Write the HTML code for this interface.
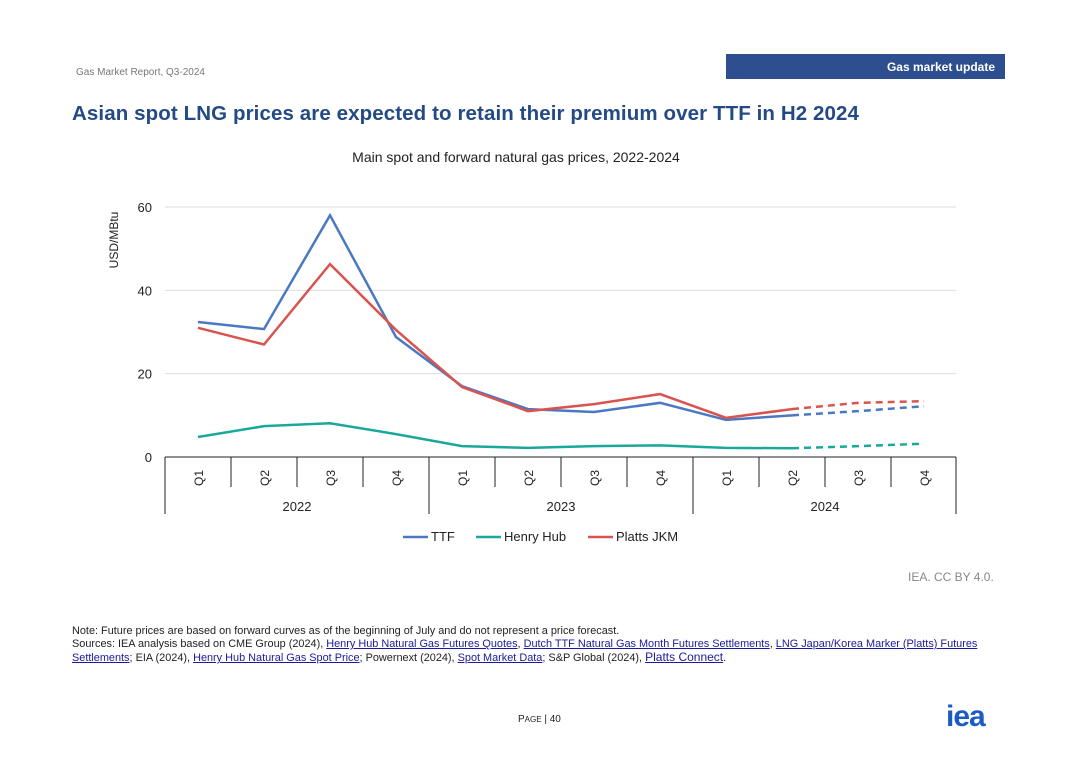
<!DOCTYPE html>
<html><head><meta charset="utf-8"><style>
body{margin:0;width:1080px;height:763px;background:#fff;font-family:"Liberation Sans",Arial,sans-serif;position:relative;overflow:hidden}
.a{position:absolute}
a{color:#1a1a9c;text-decoration:underline}
</style></head><body>
<div class="a" style="left:76px;top:67px;font-size:10px;color:#777">Gas Market Report, Q3-2024</div>
<div class="a" style="left:726px;top:54px;width:279px;height:25px;background:#2e4f8f;color:#fff;font-size:12px;font-weight:bold;text-align:right;box-sizing:border-box;padding:6px 10px 0 0">Gas market update</div>
<div class="a" style="left:72px;top:102px;font-size:20.5px;font-weight:bold;color:#234a85;letter-spacing:0.1px">Asian spot LNG prices are expected to retain their premium over TTF in H2 2024</div>
<div class="a" style="left:0;width:1032px;top:149px;text-align:center;font-size:14px;color:#222">Main spot and forward natural gas prices, 2022-2024</div>
<svg class="a" style="left:0;top:0" width="1080" height="763" id="chart"></svg>
<div class="a" style="left:908px;top:570px;font-size:12px;color:#888">IEA. CC BY 4.0.</div>
<div class="a" style="left:72px;top:625px;width:940px;font-size:10.9px;line-height:13px;color:#222">Note: Future prices are based on forward curves as of the beginning of July and do not represent a price forecast.<br>Sources: IEA analysis based on CME Group (2024), <a>Henry Hub Natural Gas Futures Quotes</a>, <a>Dutch TTF Natural Gas Month Futures Settlements</a>, <a>LNG Japan/Korea Marker (Platts) Futures Settlements</a>; EIA (2024), <a>Henry Hub Natural Gas Spot Price</a>; Powernext (2024), <a>Spot Market Data</a>; S&amp;P Global (2024), <a style="font-size:12px">Platts Connect</a>.</div>
<div class="a" style="left:518px;top:714px;font-size:10px;color:#222">P<span style="font-size:8px">AGE</span> | 40</div>
<div class="a" style="left:946px;top:700px;font-size:30px;font-weight:bold;color:#1c5bc4;letter-spacing:-1px">iea</div>
<script>
const quarters=["Q1","Q2","Q3","Q4","Q1","Q2","Q3","Q4","Q1","Q2","Q3","Q4"];
const years=["2022","2023","2024"];
const yTicks=[0,20,40,60];
const ttf=[32.4,30.7,58,28.8,17,11.5,10.8,13,8.9,10,11,12.2];
const henryHub=[4.8,7.4,8.1,5.5,2.6,2.2,2.6,2.8,2.2,2.1,2.6,3.2];
const jkm=[31,27,46.3,30.5,16.8,11,12.7,15.1,9.4,11.5,13,13.4];
const forecastStart=9;
const svg=document.getElementById('chart');const NS='http://www.w3.org/2000/svg';
const x0=165,bw=66,y0=457,ppu=250/60;
const X=i=>x0+bw*(i+0.5),Y=v=>y0-v*ppu;
function el(t,a,name){const e=document.createElementNS(NS,t);for(const k in a)e.setAttribute(k,a[k]);


svg.appendChild(e);return e;}
yTicks.forEach(v=>{if(v>0)el('line',{x1:x0,x2:956,y1:Y(v),y2:Y(v),stroke:'#ddd'},'gridline-'+v);
const t=el('text',{x:152,y:Y(v)+5,'text-anchor':'end','font-size':13,fill:'#222'},'y-tick-'+v);t.textContent=v;});
const yt=el('text',{transform:'translate(118,240) rotate(-90)','text-anchor':'middle','font-size':12,fill:'#222'},'y-axis-title');yt.textContent='USD/MBtu';
el('line',{x1:x0,x2:956,y1:y0,y2:y0,stroke:'#222'},'x-axis');
quarters.forEach((q,i)=>{const xl=x0+bw*i;el('line',{x1:xl,x2:xl,y1:y0,y2:i%4==0?514:487,stroke:'#222'},'x-tick');
const t=el('text',{transform:`translate(${X(i)+5},478) rotate(-90)`,'text-anchor':'middle','font-size':12,fill:'#222'},'x-tick-label');t.textContent=q;});
el('line',{x1:956,x2:956,y1:y0,y2:514,stroke:'#222'},'x-tick');
years.forEach((y,j)=>{const t=el('text',{x:X(j*4)+bw*1.5,y:511,'text-anchor':'middle','font-size':13,fill:'#222'},'year-label-'+y);t.textContent=y;});
function series(d,c,n){const solid=d.slice(0,forecastStart+1).map((v,i)=>X(i)+','+Y(v)).join(' ');
el('polyline',{points:solid,fill:'none',stroke:c,'stroke-width':2.5},n+'-line');
const dash=d.map((v,i)=>[i,v]).slice(forecastStart).map(p=>X(p[0])+','+Y(p[1])).join(' ');
el('polyline',{points:dash,fill:'none',stroke:c,'stroke-width':2.5,'stroke-dasharray':'7,5'},n+'-forecast');}
series(henryHub,'#1aa89a','henry-hub');series(ttf,'#4a78c2','ttf');series(jkm,'#d9534f','jkm');
[['TTF','#4a78c2',403],['Henry Hub','#1aa89a',476],['Platts JKM','#d9534f',588]].forEach(l=>{
el('line',{x1:l[2],x2:l[2]+25,y1:537,y2:537,stroke:l[1],'stroke-width':2.5},'legend-swatch');
const t=el('text',{x:l[2]+28,y:541,'font-size':13,fill:'#222'},'legend-entry');t.textContent=l[0];});
</script>
</body></html>
